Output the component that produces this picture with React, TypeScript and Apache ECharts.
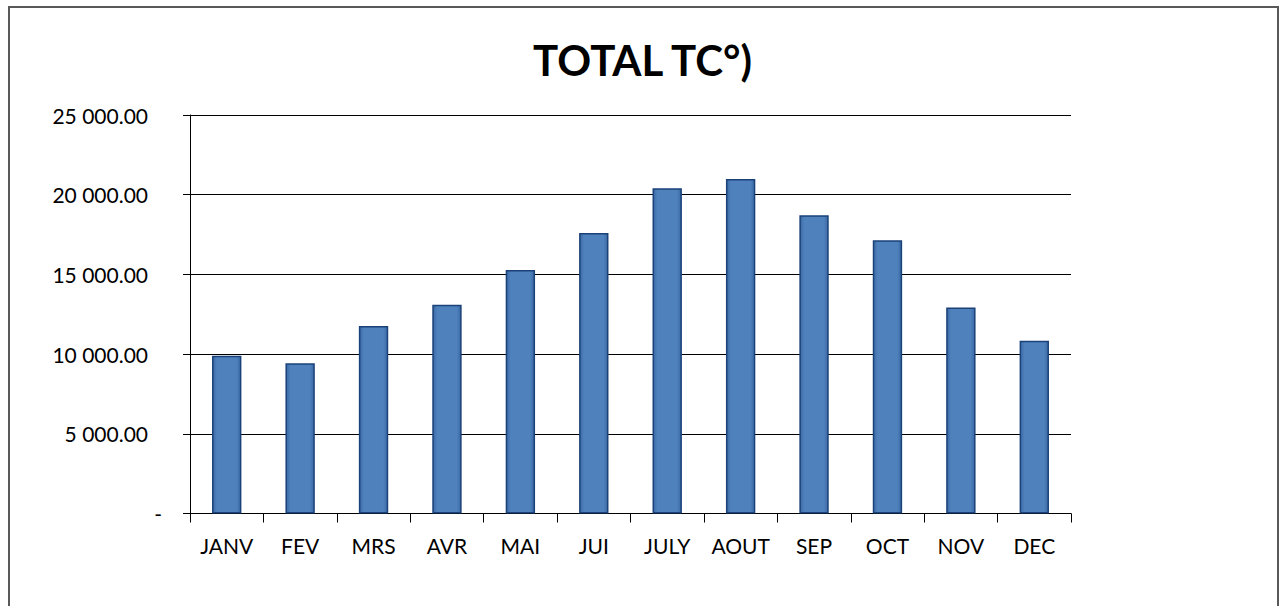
import React, { useEffect, useRef } from "react";
import * as echarts from "echarts";

const TITLE = "TOTAL TC°)";
const categories = ["JANV", "FEV", "MRS", "AVR", "MAI", "JUI", "JULY", "AOUT", "SEP", "OCT", "NOV", "DEC"];
const totals = [9890, 9420, 11760, 13100, 15280, 17600, 20400, 20990, 18710, 17140, 12930, 10840];
const yMin = 0;
const yMax = 25000;
const yInterval = 5000;

function fmt(v: number): string {
  if (v === 0) return "{z|-}";
  const s = v.toFixed(2);
  const [i, d] = s.split(".");
  return "{n|" + i.replace(/\B(?=(\d{3})+(?!\d))/g, " ") + "." + d + "}";
}

export default function App() {
  const ref = useRef<HTMLDivElement>(null);
  useEffect(() => {
    if (!ref.current) return;
    const chart = echarts.init(ref.current, null, { renderer: "svg" });
    const font = "Lato, 'Open Sans', sans-serif";
    chart.setOption({
      animation: false,
      backgroundColor: "#ffffff",
      title: {
        text: TITLE,
        left: "center",
        top: 34,
        textStyle: { fontFamily: font, fontSize: 42, fontWeight: "bold", color: "#000" },
      },
      graphic: [
        {
          type: "rect",
          shape: { x: 9, y: 7, width: 1269, height: 620 },
          style: { fill: "none", stroke: "#595959", lineWidth: 2 },
          silent: true,
        },
      ],
      grid: { left: 190, right: 214, top: 115, bottom: 92.5, containLabel: false },
      xAxis: {
        type: "category",
        data: categories,
        boundaryGap: true,
        axisLine: { show: true, lineStyle: { color: "#000", width: 1 } },
        axisTick: { show: true, length: 9, alignWithLabel: false, lineStyle: { color: "#000" } },
        axisLabel: { fontFamily: font, fontSize: 21, color: "#000", margin: 21, interval: 0 },
      },
      yAxis: {
        type: "value",
        min: yMin,
        max: yMax,
        interval: yInterval,
        axisLine: { show: true, lineStyle: { color: "#000", width: 1 } },
        axisTick: { show: true, length: 7, lineStyle: { color: "#000" } },
        splitLine: { show: true, lineStyle: { color: "#000", width: 1 } },
        axisLabel: {
          fontFamily: font,
          fontSize: 21,
          color: "#000",
          margin: 28,
          formatter: (v: number) => fmt(v),
          rich: {
            n: { fontFamily: font, fontSize: 21, color: "#000", padding: [0, 14, 0, 0] },
            z: { fontFamily: font, fontSize: 21, color: "#000" },
          },
        },
      },
      series: [
        {
          type: "bar",
          data: totals,
          barWidth: "40%",
          itemStyle: {
            color: new echarts.graphic.LinearGradient(0, 0, 1, 0, [
              { offset: 0, color: "#3b6aa5" },
              { offset: 0.15, color: "#4f81bd" },
              { offset: 0.85, color: "#4f81bd" },
              { offset: 1, color: "#3b6aa5" },
            ]),
            borderColor: "#1a4278",
            borderWidth: 1.5,
          },
        },
      ],
    });
    return () => chart.dispose();
  }, []);
  return (
    <div
      ref={ref}
      style={{ position: "absolute", left: 0, top: 0, width: 1285, height: 606 }}
    />
  );
}
